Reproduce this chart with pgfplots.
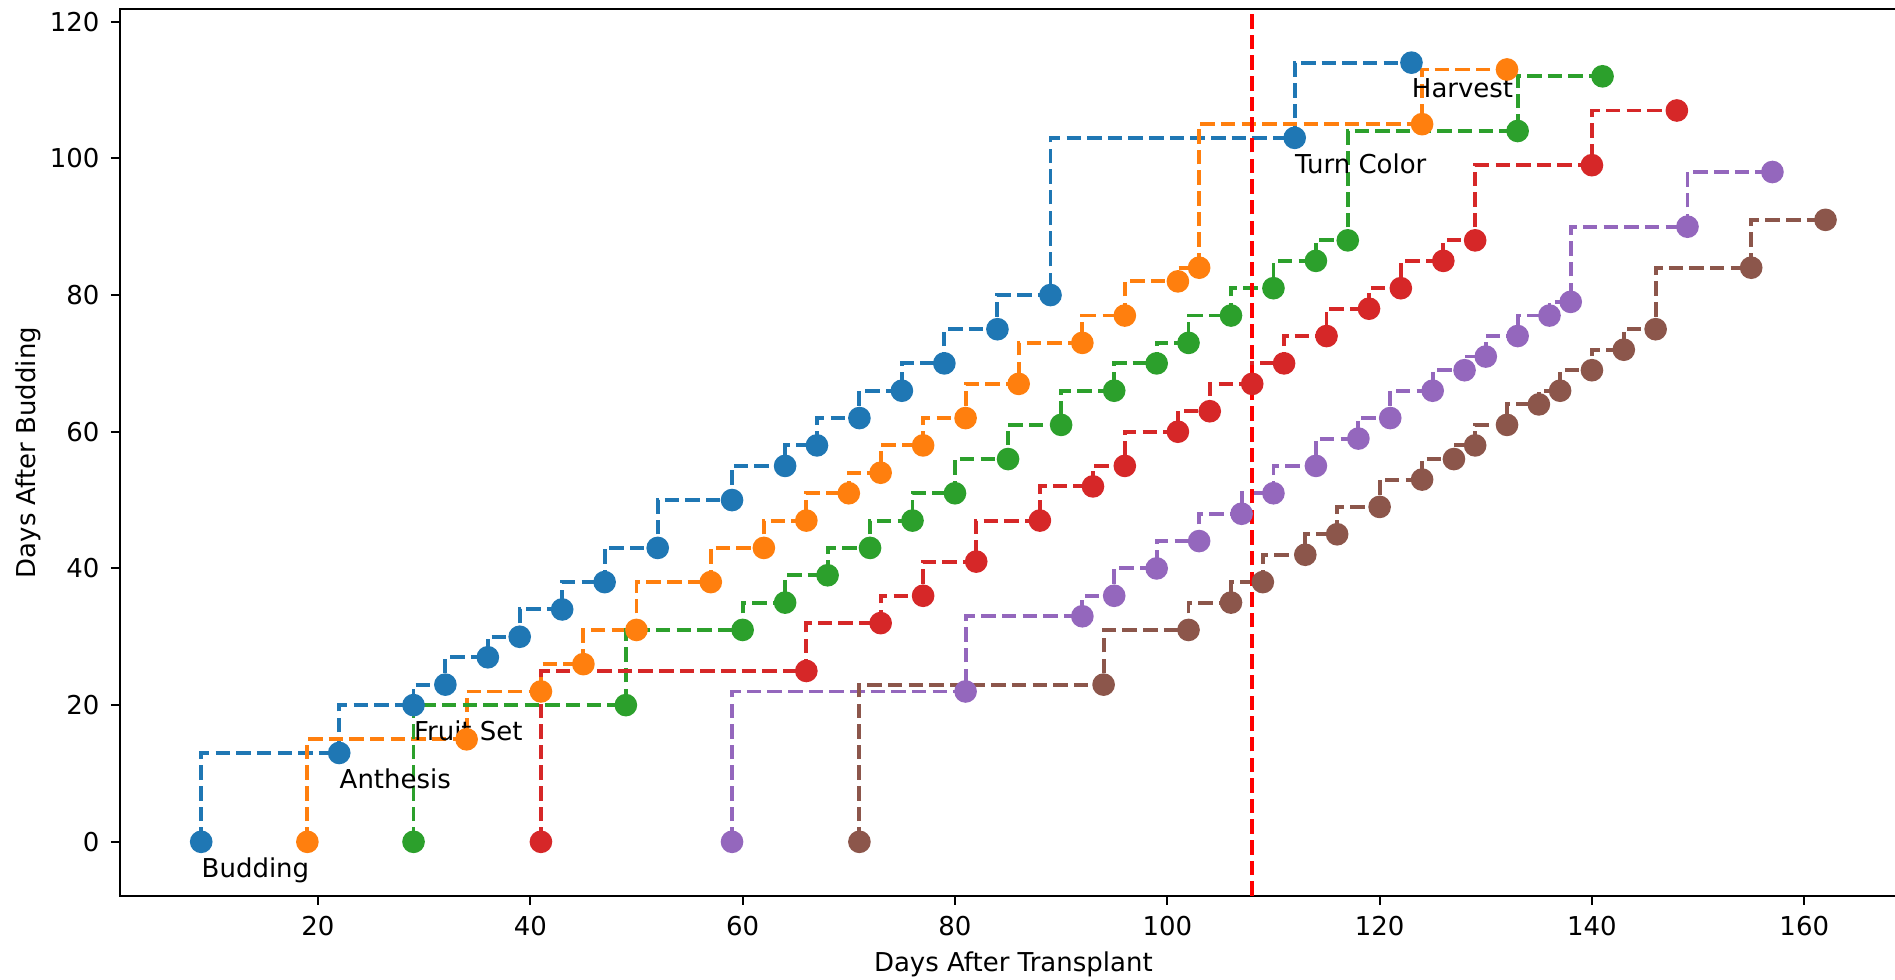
\documentclass[border=0pt]{standalone}
\usepackage{fontspec}
\setmainfont{DejaVu Sans}
\usepackage{pgfplots}
\pgfplotsset{compat=1.18}

\definecolor{c0}{HTML}{1F77B4}
\definecolor{c1}{HTML}{FF7F0E}
\definecolor{c2}{HTML}{2CA02C}
\definecolor{c3}{HTML}{D62728}
\definecolor{c4}{HTML}{9467BD}
\definecolor{c5}{HTML}{8C564B}

\pgfplotsset{
  stage/.style={const plot mark right, color=#1, line width=1.5pt,
    dash pattern=on 5.55pt off 2.4pt, mark=*, mark size=3.6pt,
    mark options={solid, draw=none, fill=#1}},
}
\tikzset{tag/.style={anchor=north west, inner sep=0pt, yshift=-5.8pt}}

\begin{document}
\begin{tikzpicture}
\begin{axis}[
  scale only axis,
  width=687.9pt, height=341.3pt,
  xmin=1.35, xmax=169.65,
  ymin=-7.9, ymax=121.8,
  xtick={20,40,60,80,100,120,140,160},
  ytick={0,20,40,60,80,100,120},
  tick align=outside, tick pos=left,
  major tick length=3.5pt,
  every tick/.style={black, line width=0.8pt},
  axis line style={line width=0.8pt},
  /pgf/number format/assume math mode=true,
  xticklabel style={anchor=north, inner sep=0pt, yshift=-4.3pt},
  yticklabel style={anchor=east, inner sep=0pt, xshift=-4.2pt},
  xlabel={Days After Transplant},
  ylabel={Days After Budding},
  xlabel style={at={(axis description cs:0.5,-0.0858)}, anchor=base},
  ylabel style={at={(axis description cs:-0.0475,0.5)}, anchor=base},
]
% blue
\addplot[stage=c0] coordinates {
(9,0) (22,13) (29,20) (32,23) (36,27) (39,30) (43,34) (47,38) (52,43) (59,50)
(64,55) (67,58) (71,62) (75,66) (79,70) (84,75) (89,80) (112,103) (123,114)};
% orange
\addplot[stage=c1] coordinates {
(19,0) (34,15) (41,22) (45,26) (50,31) (57,38) (62,43) (66,47) (70,51) (73,54)
(77,58) (81,62) (86,67) (92,73) (96,77) (101,82) (103,84) (124,105) (132,113)};
% green
\addplot[stage=c2] coordinates {
(29,0) (49,20) (60,31) (64,35) (68,39) (72,43) (76,47) (80,51) (85,56) (90,61)
(95,66) (99,70) (102,73) (106,77) (110,81) (114,85) (117,88) (133,104) (141,112)};
% red
\addplot[stage=c3] coordinates {
(41,0) (66,25) (73,32) (77,36) (82,41) (88,47) (93,52) (96,55) (101,60) (104,63)
(108,67) (111,70) (115,74) (119,78) (122,81) (126,85) (129,88) (140,99) (148,107)};
% purple
\addplot[stage=c4] coordinates {
(59,0) (81,22) (92,33) (95,36) (99,40) (103,44) (107,48) (110,51) (114,55) (118,59)
(121,62) (125,66) (128,69) (130,71) (133,74) (136,77) (138,79) (149,90) (157,98)};
% brown
\addplot[stage=c5] coordinates {
(71,0) (94,23) (102,31) (106,35) (109,38) (113,42) (116,45) (120,49) (124,53) (127,56)
(129,58) (132,61) (135,64) (137,66) (140,69) (143,72) (146,75) (155,84) (162,91)};
% today
\addplot[red, line width=1.5pt, dash pattern=on 5.55pt off 2.4pt, no marks]
coordinates {(108,-7.9) (108,121.8)};

\node[tag] at (axis cs:9,0) {Budding};
\node[tag] at (axis cs:22,13) {Anthesis};
\node[tag] at (axis cs:29,20) {Fruit Set};
\node[tag] at (axis cs:112,103) {Turn Color};
\node[tag] at (axis cs:123,114) {Harvest};
\end{axis}
\pgfresetboundingbox
\path[use as bounding box] (-46.2pt,-32.1pt) rectangle (683.4pt,344.9pt);
\end{tikzpicture}
\end{document}
